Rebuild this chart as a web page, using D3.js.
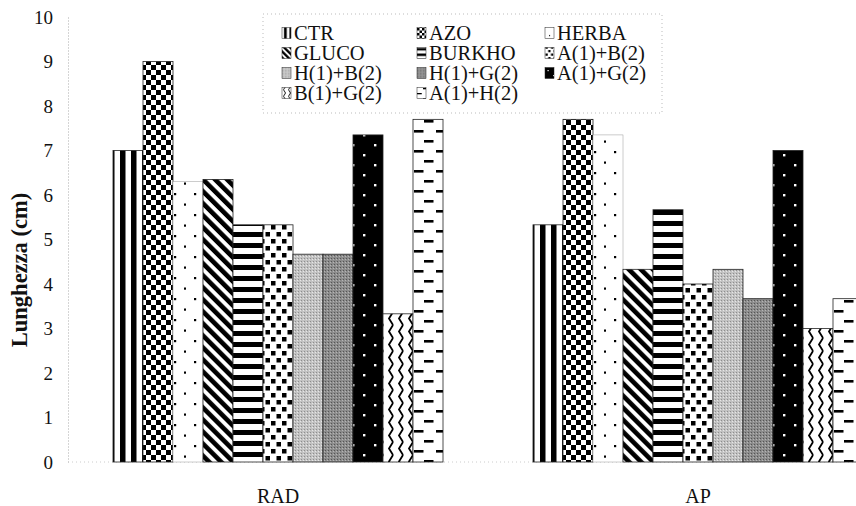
<!DOCTYPE html>
<html><head><meta charset="utf-8">
<script src="https://cdn.jsdelivr.net/npm/d3@7"></script>
<style>body{margin:0;background:#fff}svg{display:block}</style>
</head><body><svg id="c" width="856" height="506"></svg>
<script>
const categories = ["RAD", "AP"];
const seriesNames = ["CTR", "AZO", "HERBA", "GLUCO", "BURKHO", "A(1)+B(2)", "H(1)+B(2)", "H(1)+G(2)", "A(1)+G(2)", "B(1)+G(2)", "A(1)+H(2)"];
const radValues = [7.0, 9.0, 6.3, 6.35, 5.33, 5.33, 4.67, 4.67, 7.35, 3.33, 7.7];
const apValues  = [5.33, 7.7, 7.35, 4.33, 5.67, 4.0, 4.33, 3.67, 7.0, 3.0, 3.67];
const yTicks = [0, 1, 2, 3, 4, 5, 6, 7, 8, 9, 10];
const yTitle = "Lunghezza (cm)";

const valuesByCat = {RAD: radValues, AP: apValues};
const FONT = "'Liberation Serif','Times New Roman',serif";
const svg = d3.select("#c");
const defs = svg.append("defs");

const y = d3.scaleLinear().domain([0, 10]).range([462, 17]);
const x0 = d3.scaleBand().domain(categories).range([68, 908]).paddingInner(90/420).paddingOuter(45/420);
const x1 = d3.scaleBand().domain(seriesNames).range([0, x0.bandwidth()]);

function makePatterns(prefix, ox, oy, s) {
  function pat(name, w, h, extra) {
    const p = defs.append("pattern").attr("id", prefix + name)
      .attr("patternUnits", "userSpaceOnUse").attr("x", ox).attr("y", oy)
      .attr("width", w).attr("height", h);
    let t = `scale(${s})`;
    if (extra) t = extra + " " + t;
    p.attr("patternTransform", t);
    return p;
  }
  const bg = (p, w, h, c) => p.append("rect").attr("width", w).attr("height", h).attr("fill", c);
  let p;
  p = pat(0, 11, 10); bg(p, 11, 10, "#fff"); p.append("rect").attr("x", 4).attr("width", 5.5).attr("height", 10).attr("fill", "#000");
  p = pat(1, 10, 10); bg(p, 10, 10, "#fff");
  p.append("rect").attr("width", 5).attr("height", 5).attr("fill", "#000");
  p.append("rect").attr("x", 5).attr("y", 5).attr("width", 5).attr("height", 5).attr("fill", "#000");
  p = pat(2, 20, 21); bg(p, 20, 21, "#fff");
  p.append("rect").attr("x", 8).attr("y", 4).attr("width", 2.2).attr("height", 2.2).attr("fill", "#000");
  p.append("rect").attr("x", 18).attr("y", 14.5).attr("width", 2.2).attr("height", 2.2).attr("fill", "#000");
  p = pat(3, 8.5, 8.5, "rotate(-45)"); bg(p, 8.5, 8.5, "#fff");
  p.append("rect").attr("width", 4.6).attr("height", 8.5).attr("fill", "#000");
  p = pat(4, 10, 11); bg(p, 10, 11, "#fff");
  p.append("rect").attr("y", 1).attr("width", 10).attr("height", 5).attr("fill", "#000");
  p = pat(5, 11, 14); bg(p, 11, 14, "#fff");
  p.append("rect").attr("x", 1).attr("y", 1).attr("width", 4.5).attr("height", 4.5).attr("fill", "#000");
  p.append("rect").attr("x", 6.5).attr("y", 8).attr("width", 4.5).attr("height", 4.5).attr("fill", "#000");
  p = pat(6, 3, 3); bg(p, 3, 3, "#c2c2c2");
  p.append("rect").attr("width", 1).attr("height", 1).attr("fill", "#8e8e8e");
  p.append("rect").attr("x", 2).attr("y", 1).attr("width", 1).attr("height", 1).attr("fill", "#e6e6e6");
  p = pat(7, 3, 3); bg(p, 3, 3, "#8c8c8c");
  p.append("rect").attr("width", 1).attr("height", 1).attr("fill", "#555");
  p.append("rect").attr("x", 2).attr("y", 1).attr("width", 1).attr("height", 1).attr("fill", "#b5b5b5");
  p = pat(8, 22, 20); bg(p, 22, 20, "#000");
  p.append("rect").attr("x", 5).attr("y", 14).attr("width", 2.4).attr("height", 2.4).attr("fill", "#fff");
  p.append("rect").attr("x", 16).attr("y", 4).attr("width", 2.4).attr("height", 2.4).attr("fill", "#fff");
  p = pat(9, 10, 13); bg(p, 10, 13, "#fff");
  p.append("path").attr("d", "M7,0 L3,6.5 L7,13").attr("fill", "none").attr("stroke", "#000").attr("stroke-width", 1.8);
  p = pat(10, 22, 20); bg(p, 22, 20, "#fff");
  p.append("rect").attr("x", 0).attr("y", 0).attr("width", 9.5).attr("height", 2.6).attr("fill", "#000");
  p.append("rect").attr("x", 12).attr("y", 10).attr("width", 9.5).attr("height", 2.6).attr("fill", "#000");
}
makePatterns("p", x0(categories[0]), 0, 1);
makePatterns("lp", 0, 0, 0.5);

const yAxis = svg.append("g").attr("transform", `translate(68,0)`)
  .call(d3.axisLeft(y).tickValues(yTicks).tickSize(0).tickPadding(15).tickFormat(d3.format("d")));
yAxis.select(".domain").attr("stroke", "#aaa").attr("stroke-dasharray", "1,2");
yAxis.selectAll("text").attr("font-family", FONT).attr("font-size", 19).attr("fill", "#111");

svg.append("line").attr("x1", 68).attr("x2", 856).attr("y1", y(0)).attr("y2", y(0))
  .attr("stroke", "#ccc").attr("stroke-dasharray", "1,3");

const xAxis = svg.append("g").attr("transform", `translate(0,${y(0)})`)
  .call(d3.axisBottom(x0).tickSize(0).tickPadding(27));
xAxis.select(".domain").remove();
xAxis.selectAll("text").attr("font-family", FONT).attr("font-size", 20).attr("fill", "#111");

svg.append("text").attr("transform", "rotate(-90)").attr("x", -270).attr("y", 27)
  .attr("text-anchor", "middle").attr("font-family", FONT).attr("font-weight", "bold")
  .attr("font-size", 22.5).attr("fill", "#111").text(yTitle);

const groups = svg.append("g").selectAll("g").data(categories).join("g")
  .attr("transform", d => `translate(${x0(d)},0)`);
groups.selectAll("rect").data(c => seriesNames.map((s, i) => ({s, i, v: valuesByCat[c][i]}))).join("rect")
  .attr("x", d => x1(d.s)).attr("width", x1.bandwidth())
  .attr("y", d => y(d.v)).attr("height", d => y(0) - y(d.v))
  .attr("fill", d => `url(#p${d.i})`)
  .attr("stroke", d => d.i === 2 ? "#999" : "#222").attr("stroke-width", d => d.i === 2 ? 0.5 : 0.8);

const lg = svg.append("g");
lg.append("rect").attr("x", 263).attr("y", 14).attr("width", 399).attr("height", 99)
  .attr("fill", "#fff").attr("stroke", "#bbb").attr("stroke-dasharray", "1,3");
const colX = [282, 417, 545];
const rowY = [33, 53, 73, 93];
const items = lg.selectAll("g.it").data(seriesNames).join("g").attr("class", "it")
  .attr("transform", (d, i) => `translate(${colX[i % 3]},${rowY[Math.floor(i / 3)]})`);
items.append("rect").attr("x", 0).attr("y", -5.5).attr("width", 9).attr("height", 11)
  .attr("fill", (d, i) => `url(#lp${i})`).attr("stroke", "#222").attr("stroke-width", 0.5);
items.append("text").attr("x", 12).attr("y", 0).attr("dy", "0.35em")
  .attr("font-family", FONT).attr("font-size", 20.5).attr("fill", "#111").text(d => d);
</script></body></html>
